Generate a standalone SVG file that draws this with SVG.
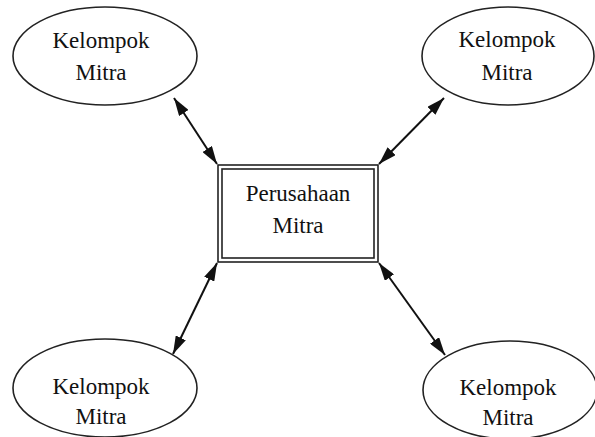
<svg xmlns="http://www.w3.org/2000/svg" width="595" height="437" viewBox="0 0 595 437">
<style>
.bg{fill:#fff}
.el{fill:#fff;stroke:#222;stroke-width:1.6}
.box{fill:#fff;stroke:#222;stroke-width:1.6}
.t{font-family:"Liberation Serif","Times New Roman",serif;font-size:23px;fill:#111;text-anchor:middle}
.c{stroke:#111;stroke-width:2;fill:none;marker-start:url(#a);marker-end:url(#a)}
</style>
<defs>
<marker id="a" viewBox="0 0 16 10" refX="16" refY="5" markerWidth="9" markerHeight="5.6" orient="auto-start-reverse" markerUnits="strokeWidth">
<path d="M0,0 L16,5 L0,10 z" fill="#111"/>
</marker>
</defs>
<rect class="bg" x="0" y="0" width="595" height="437"/>
<g id="connectors">
<line class="c" x1="174" y1="98" x2="217" y2="164"/>
<line class="c" x1="444" y1="98" x2="379" y2="164"/>
<line class="c" x1="217" y1="263" x2="173" y2="354"/>
<line class="c" x1="379" y1="263" x2="445" y2="355"/>
</g>
<g id="perusahaan">
<rect class="box" x="218" y="165" width="160" height="97"/>
<rect class="box" x="222" y="169" width="152" height="89"/>
<text class="t" x="298" y="201">Perusahaan</text>
<text class="t" x="298" y="233">Mitra</text>
</g>
<g id="kelompok-tl">
<ellipse class="el" cx="105" cy="56" rx="92" ry="49"/>
<text class="t" x="101" y="48">Kelompok</text>
<text class="t" x="101" y="80">Mitra</text>
</g>
<g id="kelompok-tr">
<ellipse class="el" cx="508" cy="56" rx="86" ry="49"/>
<text class="t" x="507" y="47">Kelompok</text>
<text class="t" x="507" y="80">Mitra</text>
</g>
<g id="kelompok-bl">
<ellipse class="el" cx="105" cy="388" rx="92" ry="49"/>
<text class="t" x="101" y="394">Kelompok</text>
<text class="t" x="101" y="424">Mitra</text>
</g>
<g id="kelompok-br">
<ellipse class="el" cx="510" cy="390" rx="87" ry="49"/>
<text class="t" x="508" y="395">Kelompok</text>
<text class="t" x="508" y="425">Mitra</text>
</g>
</svg>
